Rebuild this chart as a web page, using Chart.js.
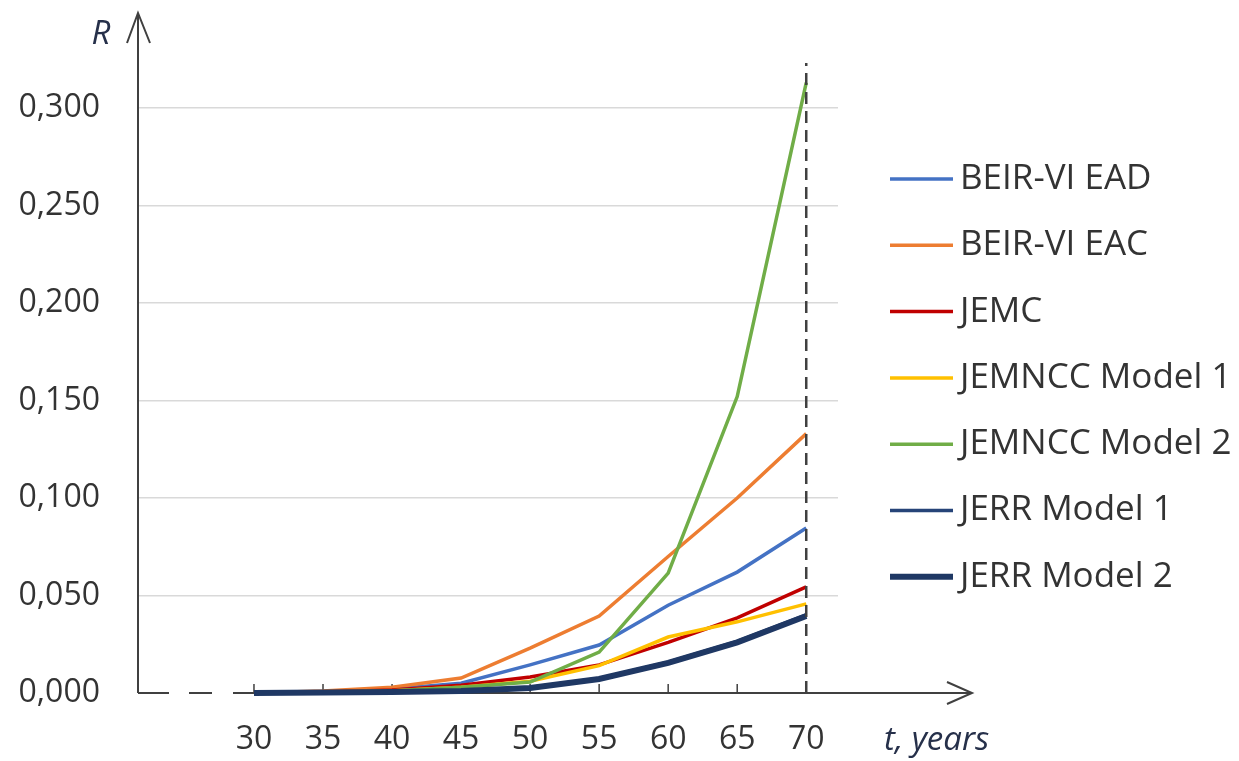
<!DOCTYPE html>
<html>
<head>
<meta charset="utf-8">
<script src="https://cdn.jsdelivr.net/npm/chart.js@4/dist/chart.umd.min.js"></script>
<style>
  html, body { margin: 0; background: #ffffff; }
</style>
</head>
<body>
<canvas id="riskChart" width="1239" height="761"></canvas>
<script>
/* ── Data ── */
const YEARS = [30, 35, 40, 45, 50, 55, 60, 65, 70];
const Y_TICKS = [0, 0.05, 0.1, 0.15, 0.2, 0.25, 0.3];

const BEIR_EAD = [0, 0.0005, 0.002, 0.005, 0.0144, 0.0246, 0.045, 0.062, 0.0846];
const BEIR_EAC = [0, 0.001, 0.003, 0.0077, 0.023, 0.0395, 0.07, 0.1, 0.133];
const JEMC     = [0, 0.0005, 0.0015, 0.004, 0.0082, 0.0144, 0.026, 0.0385, 0.0544];
const JEMNCC_1 = [0, 0.0005, 0.0012, 0.003, 0.006, 0.014, 0.0287, 0.0365, 0.0457];
const JEMNCC_2 = [0, 0.0003, 0.001, 0.003, 0.0056, 0.021, 0.0615, 0.152, 0.313];
const JERR_1   = [0, 0.0002, 0.0006, 0.0012, 0.0028, 0.0075, 0.0158, 0.0265, 0.04];
const JERR_2   = [0, 0.0002, 0.0005, 0.001, 0.0026, 0.0072, 0.0154, 0.026, 0.0395];

const NAMES = ['BEIR-VI EAD', 'BEIR-VI EAC', 'JEMC', 'JEMNCC Model 1', 'JEMNCC Model 2', 'JERR Model 1', 'JERR Model 2'];
const VALUES = [BEIR_EAD, BEIR_EAC, JEMC, JEMNCC_1, JEMNCC_2, JERR_1, JERR_2];
const LINE_COLORS = ['#4472c4', '#ed7d31', '#c00000', '#ffc000', '#70ad47', '#264478', '#1f3864'];
const LINE_WIDTHS = [3.5, 3.5, 3.5, 3.5, 3.5, 3.5, 6];

const FONT = "'Open Sans', sans-serif";
const AXIS = '#404040';
const TEXT = '#333333';

/* ── Custom axes, arrows, legend ── */
const decorations = {
  id: 'decorations',
  beforeDatasetsDraw(chart) {
    const ctx = chart.ctx;
    const x = chart.scales.x, y = chart.scales.y;
    const x0 = chart.chartArea.left, y0 = y.getPixelForValue(0);
    ctx.save();
    ctx.strokeStyle = AXIS;
    ctx.lineWidth = 2;
    ctx.lineCap = 'butt';

    // vertical axis with open arrow
    ctx.beginPath();
    ctx.moveTo(x0, y0);
    ctx.lineTo(x0, 13);
    ctx.moveTo(x0 - 11, 43);
    ctx.lineTo(x0, 13);
    ctx.lineTo(x0 + 12, 43);
    ctx.stroke();

    // horizontal axis, with break before 30
    ctx.beginPath();
    ctx.moveTo(x0, y0); ctx.lineTo(x0 + 31, y0);
    ctx.moveTo(x0 + 51, y0); ctx.lineTo(x0 + 74, y0);
    ctx.moveTo(x0 + 95, y0); ctx.lineTo(972, y0);
    ctx.moveTo(947, y0 - 11); ctx.lineTo(972, y0); ctx.lineTo(947, y0 + 11);
    ctx.stroke();

    // tick marks
    ctx.lineWidth = 1.5;
    ctx.beginPath();
    YEARS.forEach(v => {
      const px = x.getPixelForValue(v);
      ctx.moveTo(px, y0);
      ctx.lineTo(px, y0 - 9);
    });
    ctx.stroke();

    // axis titles
    ctx.fillStyle = '#26304a';
    ctx.font = `italic 33px ${FONT}`;
    ctx.textBaseline = 'middle';
    ctx.textAlign = 'center';
    ctx.fillText('R', 101, 35);
    ctx.textAlign = 'left';
    ctx.fillText('t, years', 884, 741);
    ctx.restore();
  },
  afterDatasetsDraw(chart) {
    const ctx = chart.ctx;
    const x = chart.scales.x, y = chart.scales.y;
    const px = x.getPixelForValue(70);
    ctx.save();
    ctx.strokeStyle = AXIS;
    ctx.lineWidth = 2.5;
    ctx.setLineDash([12, 7]);
    ctx.beginPath();
    ctx.moveTo(px, y.getPixelForValue(0));
    ctx.lineTo(px, 63);
    ctx.stroke();
    ctx.setLineDash([]);

    // legend
    ctx.font = `35px ${FONT}`;
    ctx.textBaseline = 'middle';
    ctx.textAlign = 'left';
    NAMES.forEach((name, i) => {
      const ly = 179 + i * 66.3;
      ctx.strokeStyle = LINE_COLORS[i];
      ctx.lineWidth = LINE_WIDTHS[i];
      ctx.beginPath();
      ctx.moveTo(890, ly);
      ctx.lineTo(953, ly);
      ctx.stroke();
      ctx.fillStyle = TEXT;
      ctx.fillText(name, 960, ly);
    });
    ctx.restore();
  }
};

const datasets = NAMES.map((name, i) => ({
  label: name,
  data: YEARS.map((yr, j) => ({ x: yr, y: VALUES[i][j] })),
  borderColor: LINE_COLORS[i],
  backgroundColor: LINE_COLORS[i],
  borderWidth: LINE_WIDTHS[i],
  pointRadius: 0,
  tension: 0,
  clip: false,
  order: NAMES.length - i,
}));

new Chart(document.getElementById('riskChart'), {
  type: 'line',
  data: { datasets },
  options: {
    responsive: false,
    animation: false,
    layout: { padding: { top: 108, right: 401, left: 0, bottom: 0 } },
    plugins: { legend: { display: false }, tooltip: { enabled: false } },
    scales: {
      x: {
        type: 'linear',
        min: 21.6,
        max: 72.3,
        afterBuildTicks: s => { s.ticks = YEARS.map(v => ({ value: v })); },
        afterFit: s => { s.height = 68; },
        grid: { display: false, drawTicks: false },
        border: { display: false },
        ticks: { color: TEXT, font: { family: FONT, size: 32 }, padding: 28, maxRotation: 0, autoSkip: false },
      },
      y: {
        min: 0,
        max: 0.3,
        afterBuildTicks: s => { s.ticks = Y_TICKS.map(v => ({ value: v })); },
        afterFit: s => { s.width = 138; },
        grid: {
          drawTicks: false,
          lineWidth: 1.5,
          color: c => (c.tick && c.tick.value === 0 ? 'rgba(0,0,0,0)' : '#d9d9d9'),
        },
        border: { display: false },
        ticks: {
          color: TEXT,
          font: { family: FONT, size: 32 },
          padding: 38,
          callback: v => v.toFixed(3).replace('.', ','),
        },
      },
    },
  },
  plugins: [decorations],
});
</script>
</body>
</html>
